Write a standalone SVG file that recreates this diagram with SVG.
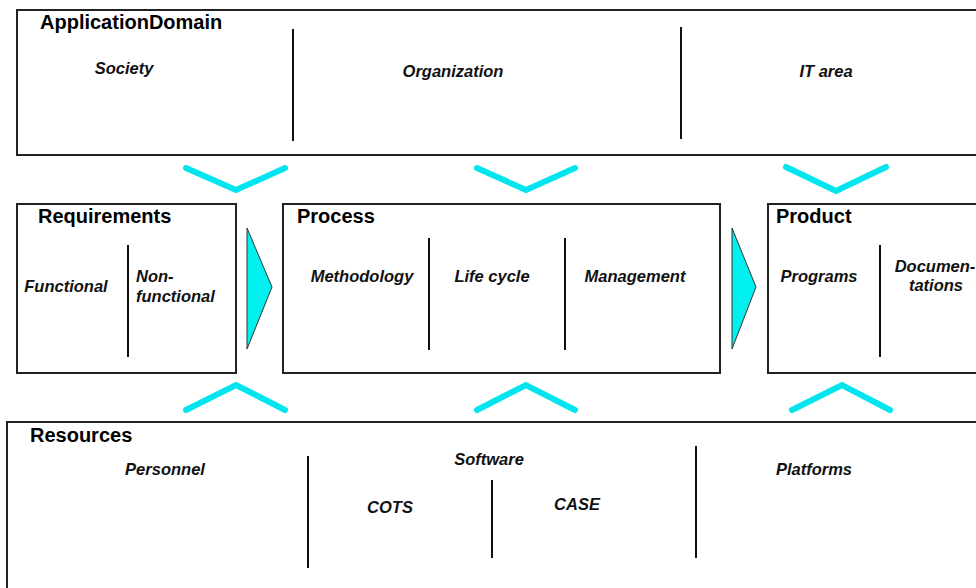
<svg xmlns="http://www.w3.org/2000/svg" width="976" height="588" viewBox="0 0 976 588">
<style>
.box{fill:#fff;stroke:#222;stroke-width:2}
.div{stroke:#111;stroke-width:2}
.title{font-family:"Liberation Sans",Arial,sans-serif;font-weight:bold;font-size:20px;fill:#000}
.lbl{font-family:"Liberation Sans",Arial,sans-serif;font-weight:bold;font-style:italic;font-size:16.5px;fill:#111;text-anchor:middle}
.chev{fill:none;stroke:#00e5ee;stroke-width:6;stroke-linecap:round;stroke-linejoin:miter}
.tri{fill:#00f0f0;stroke:#333;stroke-width:1}
</style>
<rect width="976" height="588" fill="#fff"/>
<g id="ApplicationDomain">
<rect class="box" x="17" y="10" width="975" height="145"/>
<line class="div" x1="293" y1="29" x2="293" y2="141"/>
<line class="div" x1="681" y1="27" x2="681" y2="139"/>
<text class="title" x="40" y="29">ApplicationDomain</text>
<text class="lbl" x="124" y="74">Society</text>
<text class="lbl" x="453" y="77">Organization</text>
<text class="lbl" x="826" y="77">IT area</text>
</g>
<g id="Requirements">
<rect class="box" x="17" y="204" width="219" height="169"/>
<line class="div" x1="128" y1="245" x2="128" y2="357"/>
<text class="title" x="38" y="223">Requirements</text>
<text class="lbl" x="66" y="292">Functional</text>
<text class="lbl" x="136" y="282" style="text-anchor:start">Non-</text>
<text class="lbl" x="136" y="302" style="text-anchor:start">functional</text>
</g>
<g id="Process">
<rect class="box" x="283" y="204" width="437" height="169"/>
<line class="div" x1="429" y1="238" x2="429" y2="350"/>
<line class="div" x1="565" y1="238" x2="565" y2="350"/>
<text class="title" x="297" y="223">Process</text>
<text class="lbl" x="362" y="282">Methodology</text>
<text class="lbl" x="492" y="282">Life cycle</text>
<text class="lbl" x="635" y="282">Management</text>
</g>
<g id="Product">
<rect class="box" x="768" y="204" width="230" height="169"/>
<line class="div" x1="880" y1="245" x2="880" y2="357"/>
<text class="title" x="776" y="223">Product</text>
<text class="lbl" x="819" y="282">Programs</text>
<text class="lbl" x="935" y="272">Documen-</text>
<text class="lbl" x="936" y="291">tations</text>
</g>
<g id="Resources">
<rect class="box" x="7" y="422" width="990" height="180"/>
<line class="div" x1="308" y1="456" x2="308" y2="568"/>
<line class="div" x1="492" y1="480" x2="492" y2="558"/>
<line class="div" x1="696" y1="446" x2="696" y2="558"/>
<text class="title" x="30" y="442">Resources</text>
<text class="lbl" x="165" y="475">Personnel</text>
<text class="lbl" x="489" y="465">Software</text>
<text class="lbl" x="390" y="513">COTS</text>
<text class="lbl" x="577" y="510">CASE</text>
<text class="lbl" x="814" y="475">Platforms</text>
</g>
<g id="connectors">
<polyline class="chev" points="186,168 236,190 285,168"/>
<polyline class="chev" points="477,168 526,190 575,168"/>
<polyline class="chev" points="786,167 836,191 886,167"/>
<polyline class="chev" points="186,410 236,385 285,410"/>
<polyline class="chev" points="477,410 526,385 575,410"/>
<polyline class="chev" points="792,410 842,385 890,410"/>
<polygon class="tri" points="247,228 272,287 247,349"/>
<polygon class="tri" points="732,228 756,287 732,349"/>
</g>
</svg>
